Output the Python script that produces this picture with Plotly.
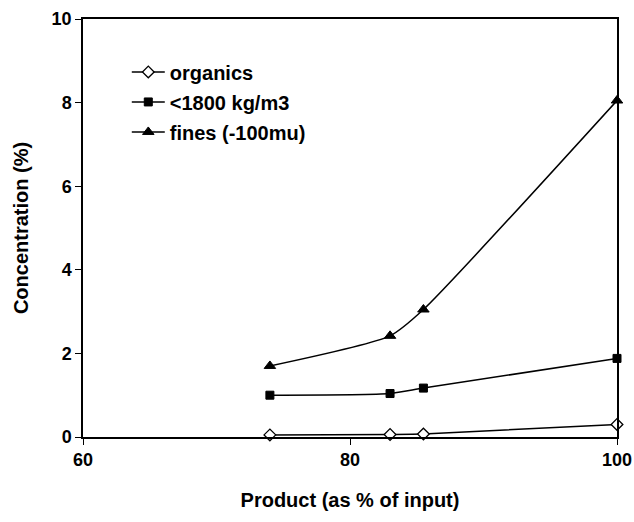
import plotly.graph_objects as go

product = [74, 83, 85.5, 100]
organics = [0.05, 0.06, 0.07, 0.30]
light = [1.00, 1.04, 1.17, 1.88]
fines = [1.70, 2.42, 3.05, 8.05]

x_ticks = [60, 80, 100]
y_ticks = [0, 2, 4, 6, 8, 10]

series = [
    ("organics", organics, dict(symbol="diamond", color="white", size=9, line=dict(color="black", width=1.3))),
    ("<1800 kg/m3", light, dict(symbol="square", color="black", size=8, line=dict(color="black", width=1))),
    ("fines (-100mu)", fines, dict(symbol="triangle-up", color="black", size=10, line=dict(color="black", width=1))),
]

FAM = "Liberation Sans, Arial, sans-serif"
fig = go.Figure()
for i, (name, vals, mk) in enumerate(series):
    fig.add_trace(go.Scatter(
        x=product, y=vals, name="<b>" + name.replace("<", "&lt;") + "</b>", mode="lines+markers",
        line=dict(color="black", width=1.5, shape="spline", smoothing=0.6),
        marker=mk, legendgroup=f"g{i}", cliponaxis=False,
    ))

fig.update_layout(
    width=634, height=522,
    margin=dict(l=83, r=17, t=19, b=85, autoexpand=False),
    paper_bgcolor="white", plot_bgcolor="white",
    font=dict(family=FAM, size=16, color="black"),
    showlegend=True,
    legend=dict(x=0.082, y=0.92, xanchor="left", yanchor="top",
                bgcolor="rgba(0,0,0,0)", font=dict(family=FAM, size=20, color="black"),
                tracegroupgap=1, itemwidth=33),
    xaxis=dict(range=[60, 100], tickvals=x_ticks, ticktext=[f"<b>{v}</b>" for v in x_ticks],
               showgrid=False, zeroline=False,
               showline=True, linecolor="black", linewidth=1.5, mirror=True,
               ticks="outside", ticklen=6, tickcolor="black", automargin=False,
               tickfont=dict(family=FAM, size=18, color="black"),
               title=dict(text="<b>Product (as % of input)</b>", standoff=24,
                          font=dict(family=FAM, size=20, color="black"))),
    yaxis=dict(range=[0, 10], tickvals=y_ticks, ticktext=[f"<b>{v}</b>" for v in y_ticks],
               showgrid=False, zeroline=False,
               showline=True, linecolor="black", linewidth=1.5, mirror=True,
               ticks="outside", ticklen=6, tickcolor="black", automargin=False,
               tickfont=dict(family=FAM, size=18, color="black"),
               title=dict(text="<b>Concentration (%)</b>", standoff=18,
                          font=dict(family=FAM, size=20, color="black"))),
)
fig.write_html("out.html")
